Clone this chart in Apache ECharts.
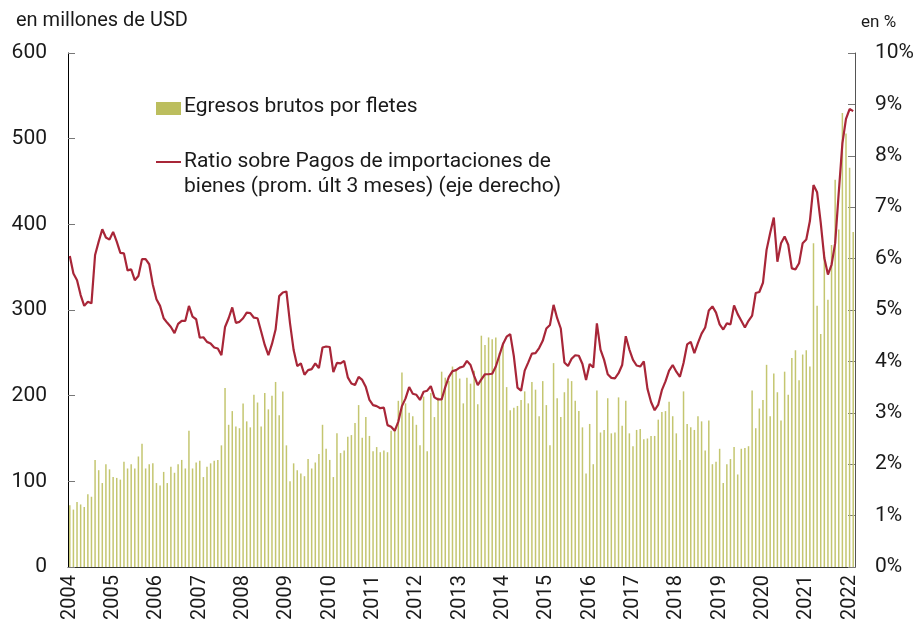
<!DOCTYPE html>
<html>
<head>
<meta charset="utf-8">
<script src="https://cdn.jsdelivr.net/npm/echarts@6/dist/echarts.min.js"></script>
<style>
  html, body { margin: 0; padding: 0; background: #fff; }
  #chart { width: 917px; height: 628px; }
</style>
</head>
<body>
<div id="chart"></div>
<script>
// años de la serie mensual (ene-2004 a feb-2022)
const years = [2004, 2005, 2006, 2007, 2008, 2009, 2010, 2011, 2012, 2013,
  2014, 2015, 2016, 2017, 2018, 2019, 2020, 2021, 2022]
const lastMonth = 2 // feb 2022

// egresos brutos por fletes, millones de USD
const fletes = [
  72, 67, 76, 73, 70, 85, 82, 125, 113, 98, 120, 114,
  105, 104, 102, 123, 115, 120, 115, 129, 144, 115, 120, 121,
  98, 95, 111, 98, 117, 110, 120, 125, 115, 159, 115, 122,
  124, 105, 117, 121, 124, 125, 142, 209, 166, 182, 164, 162,
  191, 170, 163, 201, 192, 164, 203, 184, 200, 216, 177, 205,
  142, 100, 121, 113, 109, 106, 126, 115, 122, 132, 166, 138,
  125, 105, 156, 133, 136, 152, 154, 168, 189, 151, 175, 153,
  135, 140, 134, 136, 134, 159, 159, 194, 227, 191, 180, 176,
  166, 142, 199, 135, 203, 175, 198, 228, 221, 217, 234, 229,
  220, 191, 221, 214, 229, 190, 270, 259, 268, 266, 268, 250,
  262, 210, 183, 186, 188, 195, 205, 191, 216, 207, 176, 217,
  189, 142, 238, 197, 175, 204, 220, 217, 194, 182, 163, 109,
  167, 120, 206, 157, 160, 197, 156, 157, 198, 165, 194, 156,
  141, 160, 161, 149, 150, 153, 153, 172, 181, 182, 193, 176,
  156, 125, 205, 167, 163, 160, 176, 170, 136, 171, 120, 123,
  138, 98, 120, 126, 140, 108, 138, 139, 141, 206, 162, 185,
  195, 236, 176, 226, 204, 171, 228, 201, 244, 253, 218, 248,
  253, 234, 378, 305, 272, 368, 312, 376, 452, 394, 530, 506,
  466, 391
]

// ratio sobre pagos de importaciones de bienes, %
const ratio = [
  6.05, 5.71, 5.58, 5.29, 5.08, 5.16, 5.13, 6.07, 6.33, 6.57, 6.41, 6.37,
  6.52, 6.33, 6.11, 6.10, 5.77, 5.79, 5.58, 5.66, 5.99, 5.99, 5.89, 5.49,
  5.21, 5.08, 4.84, 4.75, 4.67, 4.55, 4.73, 4.79, 4.79, 5.08, 4.87, 4.82,
  4.46, 4.47, 4.38, 4.35, 4.27, 4.25, 4.12, 4.67, 4.84, 5.05, 4.75, 4.77,
  4.84, 4.95, 4.94, 4.85, 4.84, 4.58, 4.32, 4.12, 4.34, 4.62, 5.27, 5.34,
  5.36, 4.74, 4.22, 3.91, 3.96, 3.74, 3.83, 3.85, 3.96, 3.87, 4.27, 4.29,
  4.28, 3.79, 3.97, 3.96, 4.01, 3.69, 3.57, 3.54, 3.70, 3.64, 3.50, 3.25,
  3.15, 3.13, 3.09, 3.10, 2.76, 2.73, 2.65, 2.83, 3.13, 3.28, 3.50, 3.37,
  3.35, 3.25, 3.41, 3.43, 3.52, 3.30, 3.26, 3.26, 3.50, 3.70, 3.81, 3.83,
  3.88, 3.90, 4.01, 3.93, 3.72, 3.54, 3.65, 3.75, 3.75, 3.76, 3.90, 4.12,
  4.34, 4.48, 4.53, 4.10, 3.49, 3.43, 3.82, 3.98, 4.15, 4.16, 4.26, 4.40,
  4.64, 4.71, 5.10, 4.84, 4.64, 3.98, 3.91, 4.05, 4.12, 4.11, 3.95, 3.64,
  3.95, 3.88, 4.74, 4.23, 4.03, 3.75, 3.68, 3.67, 3.77, 3.93, 4.49, 4.23,
  4.03, 3.92, 3.90, 4.00, 3.47, 3.21, 3.05, 3.16, 3.44, 3.61, 3.82, 3.93,
  3.80, 3.70, 3.97, 4.33, 4.38, 4.16, 4.36, 4.54, 4.66, 4.99, 5.07, 4.95,
  4.72, 4.62, 4.74, 4.72, 5.09, 4.92, 4.79, 4.66, 4.79, 4.89, 5.33, 5.35,
  5.53, 6.17, 6.50, 6.80, 5.94, 6.30, 6.43, 6.27, 5.81, 5.79, 5.91, 6.30,
  6.37, 6.73, 7.43, 7.29, 6.70, 6.01, 5.69, 5.88, 6.30, 7.29, 8.24, 8.72,
  8.91, 8.87
]

const leftTicks = [0, 100, 200, 300, 400, 500, 600]
const rightTicks = [0, 1, 2, 3, 4, 5, 6, 7, 8, 9, 10]

const barName = 'Egresos brutos por fletes'
const lineName = 'Ratio sobre Pagos de importaciones de\nbienes (prom. últ 3 meses) (eje derecho)'

// categorias mensuales
const months = []
years.forEach(y => {
  for (let m = 1; m <= 12; m++) {
    if (y === years[years.length - 1] && m > lastMonth) break
    months.push(y + '-' + (m < 10 ? '0' + m : m))
  }
})

const textColor = '#1a1a1a'
const axisColor = '#333'
const legendBarColor = '#bcbe5e'
const barColor = '#c4c670'
const lineColor = '#a82638'
const font = 'Roboto'

const chart = echarts.init(document.getElementById('chart'))

const option = {
  animation: false,
  textStyle: { fontFamily: font },
  grid: { left: 68, right: 61, top: 53, bottom: 61 },
  xAxis: {
    type: 'category',
    data: months,
    axisLine: { lineStyle: { color: axisColor, width: 1 } },
    axisTick: {
      inside: true,
      length: 6,
      interval: (i) => i % 12 === 0,
      lineStyle: { color: axisColor }
    },
    axisLabel: {
      rotate: 90,
      margin: 8,
      fontSize: 20,
      color: textColor,
      fontFamily: font,
      interval: (i) => i % 12 === 0,
      formatter: (v) => v.slice(0, 4)
    },
    splitLine: { show: false }
  },
  yAxis: [
    {
      type: 'value',
      min: leftTicks[0],
      max: leftTicks[leftTicks.length - 1],
      interval: 100,
      name: 'en millones de USD',
      nameLocation: 'end',
      nameGap: 22,
      nameTextStyle: { fontSize: 20, color: textColor, align: 'left', padding: [0, 0, 0, -52] },
      axisLine: { show: true, lineStyle: { color: '#000', width: 1 } },
      axisTick: { show: true, inside: true, length: 7, lineStyle: { color: '#777' } },
      axisLabel: { fontSize: 21, color: textColor, margin: 21 },
      splitLine: { show: false }
    },
    {
      type: 'value',
      min: rightTicks[0],
      max: rightTicks[rightTicks.length - 1],
      interval: 1,
      name: 'en %',
      nameLocation: 'end',
      nameGap: 22,
      nameTextStyle: { fontSize: 17, color: textColor, align: 'left', padding: [0, 0, 0, 6] },
      axisLine: { show: true, lineStyle: { color: '#555', width: 1 } },
      axisTick: { show: true, inside: true, length: 7, lineStyle: { color: '#777' } },
      axisLabel: { fontSize: 21, color: textColor, margin: 20, formatter: '{value}%' },
      splitLine: { show: false }
    }
  ],
  // leyenda dibujada a mano para poder alinear el icono con la primera linea
  graphic: [
    { type: 'rect', left: 156, top: 102, shape: { width: 25, height: 13 }, style: { fill: legendBarColor } },
    { type: 'text', left: 184, top: 96, style: { text: barName, fontSize: 21, fontFamily: font, fill: textColor } },
    { type: 'line', shape: { x1: 156, y1: 162, x2: 181, y2: 162 }, style: { stroke: lineColor, lineWidth: 2 } },
    { type: 'text', left: 184, top: 149, style: { text: lineName, fontSize: 21, lineHeight: 25, fontFamily: font, fill: textColor } }
  ],
  series: [
    {
      name: barName,
      type: 'bar',
      data: fletes,
      barWidth: 1.5,
      itemStyle: { color: barColor },
      z: 1
    },
    {
      name: lineName,
      type: 'line',
      yAxisIndex: 1,
      data: ratio,
      symbol: 'none',
      lineStyle: { color: lineColor, width: 2.2 },
      z: 3
    }
  ]
}

chart.setOption(option)
</script>
</body>
</html>
